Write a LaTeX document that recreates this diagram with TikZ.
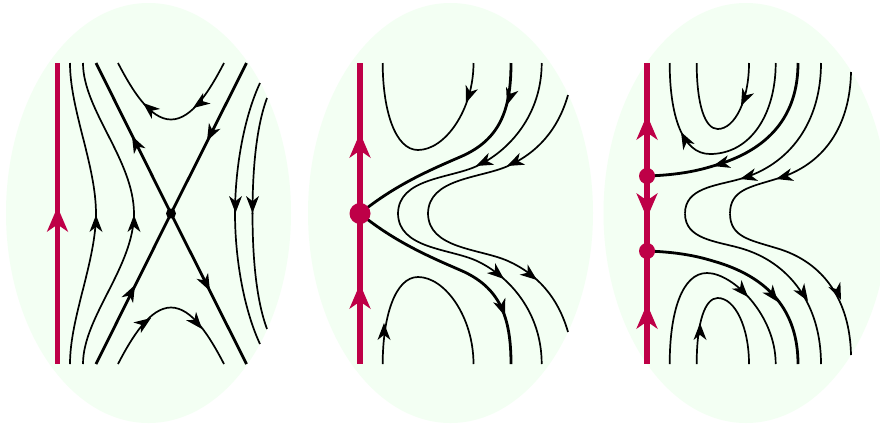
\documentclass[tikz,border=0pt]{standalone}
\definecolor{bgmint}{HTML}{F3FFF3}
\definecolor{crimson}{HTML}{BE0047}
\tikzset{
  x=1bp,y=-1bp,
  thinflow/.style={draw=black,line width=1.7bp},
  thickflow/.style={draw=black,line width=2.8bp},
  redaxis/.style={draw=crimson,line width=5.5bp},
  region/.style={fill=bgmint},
}
% tip at (x,y), direction in degrees (visual, counter-clockwise), length, width, colour
\newcommand\headat[6]{\fill[#6,shift={(#1,#2)},rotate=#3,yscale=-1]
  (0,0) .. controls ({-.5*#4},{.21*#5}) .. ({-#4},{.5*#5})
  -- ({-.7*#4},0) -- ({-#4},{-.5*#5})
  .. controls ({-.5*#4},{-.21*#5}) .. cycle;}
\newcommand\tipk[3]{\headat{#1}{#2}{#3}{17}{13}{black}}
\newcommand\tipr[3]{\headat{#1}{#2}{#3}{25}{21.5}{crimson}}
\newcommand\both[2]{\draw[#1] #2; \draw[#1,shift={(0,427)},yscale=-1] #2;}
\begin{document}
\begin{tikzpicture}
\useasboundingbox (0,0) rectangle (880,427);
\clip (0,0) rectangle (880,427);
\fill[white] (0,0) rectangle (880,427);
\fill[region] (148.5,213) ellipse [x radius=142.5,y radius=210];
\fill[region] (450.5,213) ellipse [x radius=142.5,y radius=210];
\fill[region] (746,213) ellipse [x radius=142.5,y radius=210];

% ---- panel 1
\draw[redaxis] (57.5,63) -- (57.5,364);
\tipr{57.5}{207}{90}
\both{thinflow}{(70,63) .. controls (70,110) and (96,165) .. (96,214)}
\both{thinflow}{(83,63) .. controls (83,110) and (134,160) .. (134,214)}
\both{thinflow}{(118,63) .. controls (132,90) and (150,119.5) .. (171,119.5) .. controls (192,119.5) and (210,90) .. (224,63)}
\both{thinflow}{(260,83) .. controls (245,115) and (235,165) .. (235,214)}
\both{thinflow}{(267,98) .. controls (257,125) and (252.5,165) .. (252.5,214)}
\draw[thickflow] (96,63) -- (171,213.5) -- (246.5,364);
\draw[thickflow] (246.5,63) -- (171,213.5) -- (96,364);
\fill (171,213.5) circle (5);
\tipk{96}{215}{90}
\tipk{134}{215}{90}
\tipk{235.5}{213}{-90}
\tipk{252.5}{213}{-90}
\tipk{132}{136}{117}
\tipk{207}{141}{-117}
\tipk{135}{285}{63}
\tipk{210}{291}{-63}
\tipk{143}{103}{140}
\tipk{193}{108}{-145}
\tipk{151}{318}{35}
\tipk{202}{329}{-50}

% ---- panel 2
\draw[redaxis] (360,63) -- (360,364);
\tipr{360}{133}{90}
\tipr{360}{284}{90}
\both{thinflow}{(382.7,63) .. controls (382.7,110) and (395,150) .. (418,150) .. controls (445,150) and (473.5,110) .. (473.5,63)}
\both{thickflow}{(360,213.5) .. controls (395,185) and (430,170) .. (460,157) .. controls (500,140) and (511,110) .. (511,63)}
\both{thinflow}{(541.7,63) .. controls (541.7,115) and (509,151) .. (477,166) .. controls (450,178.6) and (398,178) .. (398,214)}
\both{thinflow}{(568,95) .. controls (558,130) and (537,153) .. (508,166) .. controls (480,178.5) and (428,178) .. (428,214)}
\fill[crimson] (360,213.5) circle (10.5);
\tipk{466}{103}{-110}
\tipk{507}{105}{-108}
\tipk{476}{166}{-155}
\tipk{507}{166}{-155}
\tipk{384}{323}{90}
\tipk{505}{316}{-70}
\tipk{504}{279}{-40}
\tipk{537}{280}{-38}

% ---- panel 3
\draw[redaxis] (647,63) -- (647,364);
\tipr{647}{115}{90}
\tipr{647}{218}{-90}
\tipr{647}{304}{90}
\both{thinflow}{(696.7,63) .. controls (696.7,105) and (705,129) .. (717.7,129) .. controls (735,129) and (749,100) .. (749,63)}
\draw[thinflow] (669.7,63) .. controls (669.7,115) and (682,154) .. (710,154) .. controls (750,154) and (775.7,115) .. (775.7,63);
\draw[thinflow] (669.7,364) .. controls (669.7,312) and (682,273) .. (707,273) .. controls (733,273) and (775.7,315) .. (775.7,364);
\both{thickflow}{(647,176) .. controls (680,175) and (700,170) .. (713,166) .. controls (770,150) and (798,115) .. (798,63)}
\both{thinflow}{(821,63) .. controls (821,122) and (790,165) .. (740,179) .. controls (715,186) and (685,188) .. (685,213.5)}
\both{thinflow}{(851,72) .. controls (850,125) and (825,165) .. (776,179) .. controls (750,187) and (730,190) .. (730,213.5)}
\fill[crimson] (647,176) circle (8);
\fill[crimson] (647,251) circle (8);
\tipk{741}{106}{-115}
\tipk{681}{132}{118}
\tipk{713}{166}{-165}
\tipk{740}{179}{-165}
\tipk{776}{179}{-165}
\tipk{700}{323}{90}
\tipk{748}{297}{-48}
\tipk{778}{302}{-52}
\tipk{808}{301}{-57}
\tipk{841}{300}{-67}
\end{tikzpicture}
\end{document}
